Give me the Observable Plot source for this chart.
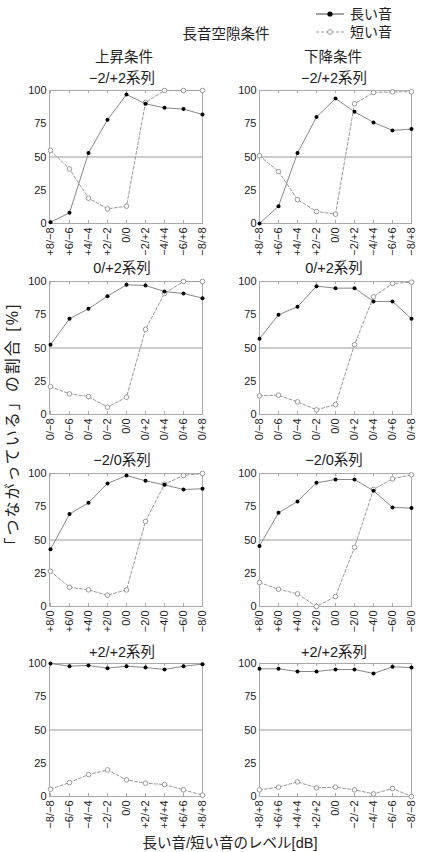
<!DOCTYPE html>
<html><head><meta charset="utf-8">
<script src="https://cdn.jsdelivr.net/npm/d3@7"></script>
<script src="https://cdn.jsdelivr.net/npm/@observablehq/plot@0.6"></script>
<style>
body{margin:0;background:#fff;}
#root{position:relative;width:421px;height:852px;font-family:"Liberation Sans","Noto Sans CJK JP",sans-serif;color:#222;overflow:hidden;}
.t{position:absolute;white-space:nowrap;transform:translate(-50%,-50%);font-size:14.5px;line-height:1;}
.panel{position:absolute;}
.yl{position:absolute;white-space:nowrap;font-size:16px;letter-spacing:2px;line-height:1;transform:translate(-50%,-50%) rotate(-90deg);}
</style></head><body><div id="root"></div>
<script>
// tick labels
const labelsA = ["+8/−8","+6/−6","+4/−4","+2/−2","0/0","−2/+2","−4/+4","−6/+6","−8/+8"];
const labelsB = ["0/−8","0/−6","0/−4","0/−2","0/0","0/+2","0/+4","0/+6","0/+8"];
const labelsC = ["+8/0","+6/0","+4/0","+2/0","0/0","−2/0","−4/0","−6/0","−8/0"];
const labelsD = ["−8/−8","−6/−6","−4/−4","−2/−2","0/0","+2/+2","+4/+4","+6/+6","+8/+8"];
const labelsE = ["+8/+8","+6/+6","+4/+4","+2/+2","0/0","−2/−2","−4/−4","−6/−6","−8/−8"];
const yTicks = [0,25,50,75,100];

// 上昇条件 (left column)
const upA_long  = [1, 8, 53, 78, 97, 90, 87, 86, 82];
const upA_short = [55, 41, 19, 11, 13, 91, 100, 100, 100];
const upB_long  = [52.5, 72, 79.5, 89, 97.5, 97, 92.5, 91, 87.5];
const upB_short = [21, 15.5, 13.5, 5.5, 13, 64, 91, 100, 100];
const upC_long  = [43, 69.5, 78, 92.5, 98.5, 94.5, 91.5, 88, 88.5];
const upC_short = [26.5, 14.5, 12.5, 8.5, 12.5, 64, 92, 98.5, 100];
const upD_long  = [100, 98, 98.5, 96.5, 98, 97, 95.5, 98, 99.5];
const upD_short = [5.5, 10.5, 16.5, 20, 12.5, 10, 9, 5, 1];

// 下降条件 (right column)
const dnA_long  = [0, 13, 53, 80, 94, 84, 76, 70, 71];
const dnA_short = [51, 39, 18, 9, 7, 90, 98.5, 99, 99];
const dnB_long  = [57, 75, 81, 96.5, 95, 95, 85, 85, 72];
const dnB_short = [14, 14.5, 9.5, 3.5, 7.5, 52.5, 88.5, 98.5, 99.5];
const dnC_long  = [45.5, 70.5, 79, 93, 95.5, 95.5, 87, 74.5, 74];
const dnC_short = [18, 13, 9.5, 0, 7.5, 44.5, 88, 96, 99];
const dnD_long  = [96, 96, 94, 94, 95.5, 95.5, 92.5, 97.5, 97];
const dnD_short = [5, 7, 11, 6.5, 7, 5, 2, 6, 0];

const root = document.getElementById("root");
const numFont = '"Liberation Sans","Noto Sans CJK JP",sans-serif';

function addText(txt, x, y, size, cls) {
  const d = document.createElement("div");
  d.className = cls || "t";
  d.textContent = txt;
  d.style.left = x + "px"; d.style.top = y + "px";
  if (size) d.style.fontSize = size + "px";
  root.appendChild(d);
}

function panel(labels, longV, shortV, left, plotTop, w, mr) {
  const rows = labels.map((l, i) => ({l, long: longV[i], short: shortV[i]}));
  const mt = 6, ph = 133, mb = 44;
  const chart = Plot.plot({
    width: w, height: mt + ph + mb,
    marginTop: mt, marginBottom: mb, marginLeft: 49, marginRight: mr,
    x: {type: "point", domain: labels, padding: 0, label: null},
    y: {domain: [0, 100], label: null},
    style: {fontFamily: numFont, fontSize: "11px", color: "#222", background: "transparent", overflow: "visible"},
    marks: [
      Plot.ruleY([50], {stroke: "#999", strokeWidth: 1}),
      Plot.ruleX(labels, {x: d => d, y1: 0, y2: 2.3, stroke: "#aaa"}),
      Plot.ruleX(labels, {x: d => d, y1: 97.7, y2: 100, stroke: "#aaa"}),
      Plot.ruleY(yTicks, {x1: labels[0], x2: labels[0], insetRight: -3, stroke: "#aaa"}),
      Plot.ruleY(yTicks, {x1: labels[labels.length - 1], x2: labels[labels.length - 1], insetLeft: -3, stroke: "#aaa"}),
      Plot.frame({stroke: "#aaa"}),
      Plot.axisY({ticks: yTicks, tickSize: 0, tickPadding: 3}),
      Plot.axisX({tickSize: 0, tickRotate: -90, tickPadding: 4}),
      Plot.line(rows, {x: "l", y: "short", stroke: "#999", strokeWidth: 1, strokeDasharray: "3,2"}),
      Plot.dot(rows, {x: "l", y: "short", r: 2.3, stroke: "#999", fill: "white", strokeWidth: 1}),
      Plot.line(rows, {x: "l", y: "long", stroke: "#888", strokeWidth: 1}),
      Plot.dot(rows, {x: "l", y: "long", r: 2, fill: "black", stroke: "none"})
    ]
  });
  chart.classList.add("panel");
  chart.style.left = left + "px";
  chart.style.top = (plotTop - mt) + "px";
  root.appendChild(chart);
}

const plotTops = [90, 281, 473, 663];
panel(labelsA, upA_long, upA_short, 0, plotTops[0], 210, 8);
panel(labelsA, dnA_long, dnA_short, 210, plotTops[0], 211, 10);
panel(labelsB, upB_long, upB_short, 0, plotTops[1], 210, 8);
panel(labelsB, dnB_long, dnB_short, 210, plotTops[1], 211, 10);
panel(labelsC, upC_long, upC_short, 0, plotTops[2], 210, 8);
panel(labelsC, dnC_long, dnC_short, 210, plotTops[2], 211, 10);
panel(labelsD, upD_long, upD_short, 0, plotTops[3], 210, 8);
panel(labelsE, dnD_long, dnD_short, 210, plotTops[3], 211, 10);

// titles
addText("長音空隙条件", 226, 34);
addText("上昇条件", 124, 57);
addText("下降条件", 333, 57);
const seriesTitles = ["−2/+2系列", "0/+2系列", "−2/0系列", "+2/+2系列"];
const titleY = [78, 268, 460, 652];
seriesTitles.forEach((s, i) => { addText(s, 122, titleY[i]); addText(s, 334, titleY[i]); });
addText("長い音/短い音のレベル[dB]", 230, 843, 14.5);
addText("「つながっている」の割合 [%]", 13, 428, 16, "yl");

// legend
const leg = document.createElementNS("http://www.w3.org/2000/svg", "svg");
leg.setAttribute("width", 40); leg.setAttribute("height", 40);
leg.style.position = "absolute"; leg.style.left = "310px"; leg.style.top = "4px";
leg.innerHTML = '<line x1="6" y1="10" x2="34" y2="10" stroke="#444" stroke-width="1"/>' +
  '<circle cx="20" cy="10" r="2.6" fill="black"/>' +
  '<line x1="6" y1="28" x2="34" y2="28" stroke="#999" stroke-width="1" stroke-dasharray="3,2"/>' +
  '<circle cx="20" cy="28" r="2.4" fill="white" stroke="#999"/>';
root.appendChild(leg);
const legendNames = ["長い音", "短い音"];
addText(legendNames[0], 371, 14, 14);
addText(legendNames[1], 371, 32, 14);
</script></body></html>
